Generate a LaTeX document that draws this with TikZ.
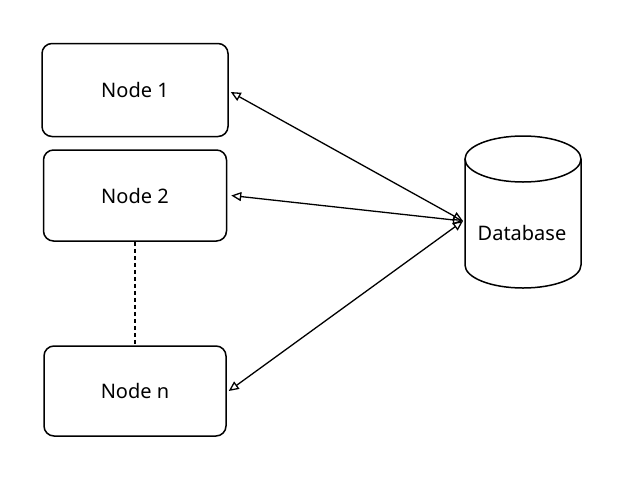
\documentclass[tikz,border=0pt]{standalone}
\usepackage{fontspec}
\setmainfont{Noto Sans}
\usetikzlibrary{arrows.meta}
\begin{document}
\begin{tikzpicture}[x=1pt,y=-1pt,
  box/.style={draw, line width=1.5pt, rounded corners=10pt, inner sep=0pt, font=\fontsize{20}{24}\selectfont},
  link/.style={draw, line width=1.3pt, {Triangle[open,length=10pt,width=9pt]}-{Triangle[open,length=10pt,width=9pt]}},
  dots/.style={draw, line width=2.6pt, dash pattern=on 4pt off 3pt}]
\useasboundingbox (0,0) rectangle (626,482);
\node[box, minimum width=186pt, minimum height=93pt] (n1) at (135,90) {Node 1};
\node[box, minimum width=183pt, minimum height=91pt] (n2) at (135,195.5) {Node 2};
\node[box, minimum width=182pt, minimum height=90pt] (nn) at (135,391) {Node n};
% database cylinder
\draw[line width=1.5pt] (523,159) ellipse [x radius=58, y radius=23];
\draw[line width=1.5pt] (465,159) -- (465,265) arc[start angle=180, end angle=360, x radius=58, y radius=-23] -- (581,159);
\node[inner sep=0pt, font=\fontsize{20}{24}\selectfont] (db) at (522,233) {Database};
\coordinate (dbin) at (463,221);
\path[dots] (n2.south) -- (nn.north);
\path[link] (n1.east) ++(2,2) coordinate (a1) (a1) -- (dbin);
\path[link] (n2.east) ++(4,0) coordinate (a2) (a2) -- (dbin);
\path[link] (nn.east) ++(2,0) coordinate (a3) (a3) -- (dbin);
\end{tikzpicture}
\end{document}
